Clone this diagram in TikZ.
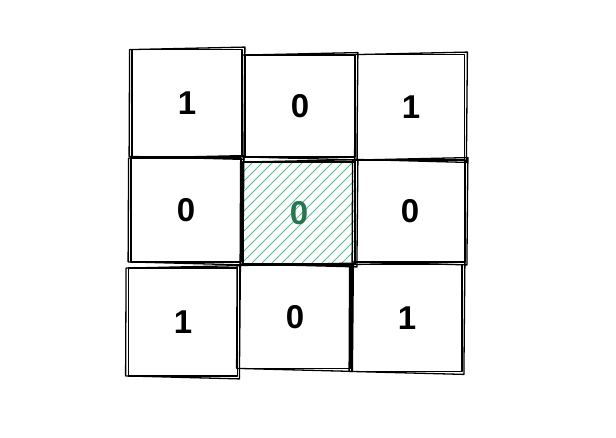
\documentclass[tikz,border=0pt]{standalone}
\usepackage{fontspec}
\setmainfont{Liberation Sans}
\definecolor{hatchgreen}{RGB}{88,190,148}
\definecolor{darkgreen}{RGB}{40,118,78}
\tikzset{
  pen/.style={line width=1.8pt, line cap=round, line join=round},
  cell/.style={draw, pen, font=\fontsize{33}{33}\selectfont\bfseries},
  hatch/.style={hatchgreen, line width=1pt}
}
% second, slightly skewed stroke round a cell
\newcommand\rough[1]{\draw[pen, line width=1.3pt] ([shift={(-1.5,1)}]#1.north west) -- ([shift={(2,-1.5)}]#1.north east) -- ([shift={(1,2)}]#1.south east) -- ([shift={(-2,-1)}]#1.south west) -- cycle;}
\begin{document}
\begin{tikzpicture}[x=1pt,y=-1pt]
\fill[white] (0,0) rectangle (616,438);
\useasboundingbox (0,0) rectangle (616,438);

% top row
\node[cell, minimum width=110pt, minimum height=107pt] (a) at (187,103) {1};
\node[cell, minimum width=110pt, minimum height=102pt] (b) at (300,106) {0};
\node[cell, minimum width=107pt, minimum height=105pt] (c) at (411,107) {1};

% middle row
\node[cell, minimum width=110pt, minimum height=104pt] (d) at (186,210) {0};
\node[cell, darkgreen, draw=black, minimum width=112pt, minimum height=102pt,
  path picture={
    \foreach \i in {-120,-110,...,120}
      \draw[hatch] ([shift={(\i,8)}]path picture bounding box.south west) -- ++(140,-140);
  }] (e) at (299,213) {0};
\node[cell, minimum width=110pt, minimum height=102pt] (f) at (410,211) {0};

% bottom row
\node[cell, minimum width=109pt, minimum height=108pt] (g) at (183,322) {1};
\node[cell, minimum width=111pt, minimum height=103pt] (h) at (295,317) {0};
\node[cell, minimum width=110pt, minimum height=107pt] (i) at (407,318) {1};

\rough{a} \rough{b} \rough{c}
\rough{d} \rough{e} \rough{f}
\rough{g} \rough{h} \rough{i}
\end{tikzpicture}
\end{document}
